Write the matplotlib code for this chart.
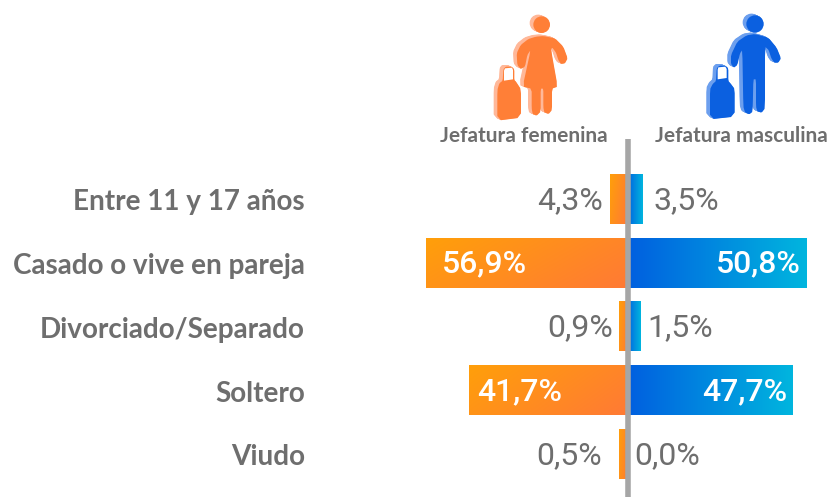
import numpy as np
import matplotlib
matplotlib.use("Agg")
import matplotlib.pyplot as plt
from matplotlib.patches import Polygon, Circle

categories = ["Entre 11 y 17 años", "Casado o vive en pareja", "Divorciado/Separado", "Soltero", "Viudo"]
female_labels = ["4,3%", "56,9%", "0,9%", "41,7%", "0,5%"]
male_labels = ["3,5%", "50,8%", "1,5%", "47,7%", "0,0%"]
# bar lengths as drawn in the picture (not quite proportional to the labels)
female_bars = [4.8, 57.0, 2.3, 45.0, 2.3]
male_bars = [4.5, 50.8, 3.7, 47.0, 0.0]

GREY = "#6E6E6E"
PX = 3.53      # pixels per percent
X0 = 627.4     # pixel position of the centre line
DY = 63.75     # pixels between rows
Y0 = 199.3     # pixel position of first row

fig = plt.figure(figsize=(8.3, 4.97), dpi=100)
ax = fig.add_axes([0, 0, 1, 1])


def hex_rgb(c):
    return np.array(matplotlib.colors.to_rgb(c))


def gradient(c1, c2, diag=0.0):
    # left to right blend, diag tilts it towards the bottom
    u, v = np.meshgrid(np.linspace(0, 1, 100), np.linspace(0, 1, 30))
    t = ((1 - diag) * u + diag * v)[..., None]
    return hex_rgb(c1) * (1 - t) + hex_rgb(c2) * t


orange = gradient("#FF9F0A", "#FF7A35", 0.3)
blue = gradient("#005FE0", "#00B5DE")
h = 0.77 / 2

for i in range(len(categories)):
    ax.imshow(orange, extent=(-female_bars[i], 0, i + h, i - h), aspect="auto", zorder=2)
    if male_bars[i] > 0:
        ax.imshow(blue, extent=(0, male_bars[i], i + h, i - h), aspect="auto", zorder=2)

ax.set_xlim(-X0 / PX, (830 - X0) / PX)
ax.set_ylim((497 - Y0) / DY, -Y0 / DY)
ax.axis("off")

ax.plot([0.1, 0.1], [(139 - Y0) / DY, (497 - Y0) / DY], color="#A6A6A6", lw=4, solid_capstyle="butt", zorder=3)

# category labels
for i, c in enumerate(categories):
    ax.annotate(c, (0, i), xycoords=("axes fraction", "data"), xytext=(305, -3), textcoords="offset pixels",
                ha="right", va="center", fontsize=20.1, fontweight="bold", family="Lato", color=GREY)

# value labels, offset from the bar end in pixels
f_pad = [-8, 16, -6, 9, -17]
m_pad = [10, -6, 7, -6, 7]
for i in range(len(categories)):
    inside = female_bars[i] > 20
    ax.annotate(female_labels[i], (-female_bars[i], i + 0.01), xytext=(f_pad[i], -0.5), textcoords="offset pixels",
                ha="left" if inside else "right", va="center", fontsize=23, family="Roboto",
                fontweight="medium" if inside else "normal", color="white" if inside else GREY, zorder=4)
    inside = male_bars[i] > 20
    ax.annotate(male_labels[i], (male_bars[i], i + 0.01), xytext=(m_pad[i], -0.5), textcoords="offset pixels",
                ha="right" if inside else "left", va="center", fontsize=23, family="Roboto",
                fontweight="medium" if inside else "normal", color="white" if inside else GREY, zorder=4)

# overlay in pixel coordinates for the headers and icons
ov = fig.add_axes([0, 0, 1, 1], facecolor="none")
ov.set_xlim(0, 830)
ov.set_ylim(497, 0)
ov.axis("off")

ov.text(523.5, 136, "Jefatura femenina", ha="center", va="center", fontsize=15, fontweight="bold", family="Lato", color=GREY)
ov.text(741.5, 136, "Jefatura masculina", ha="center", va="center", fontsize=15, fontweight="bold", family="Lato", color=GREY)


def smooth(pts, passes=1):
    pts = np.array(pts, dtype=float)
    for _ in range(passes):
        nxt = np.roll(pts, -1, axis=0)
        pts = np.column_stack([0.85 * pts + 0.15 * nxt, 0.15 * pts + 0.85 * nxt]).reshape(-1, 2)
    return pts


def icon(head, r, body, case, hole, front, light):
    # outlines are sketched at 3x scale, starting at x=430
    def px(pts, dx=0, dy=0):
        return [(430 + (x + dx) / 3, (y + dy) / 3) for x, y in pts]

    body = smooth(body)
    case = smooth(case)
    # extruded lighter copy behind the front face
    for s in np.linspace(1, 0.1, 8):
        dx, dy = -11 * s, -5 * s
        ov.add_patch(Circle(px([head], dx, dy)[0], r / 3, color=light, lw=0))
        ov.add_patch(Polygon(px(body, dx, dy), closed=True, fc=light, ec="none"))
        ov.add_patch(Polygon(px(case, dx, dy), closed=True, fc=light, ec="none"))
    ov.add_patch(Circle(px([head])[0], r / 3, color=front, lw=0))
    ov.add_patch(Polygon(px(body), closed=True, fc=front, ec="none"))
    ov.add_patch(Polygon(px(case), closed=True, fc=front, ec="none"))
    ov.add_patch(Polygon(px(hole), closed=True, fc="white", ec="none"))


f_body = [(340, 108), (375, 115), (400, 140), (413, 175), (405, 190), (393, 192), (385, 180), (378, 158), (367, 143),
          (363, 148), (383, 260), (366, 266), (366, 330), (356, 342), (343, 337), (340, 322), (340, 266), (332, 266),
          (332, 335), (320, 347), (308, 342), (305, 325), (305, 266), (278, 260), (302, 150), (292, 165), (285, 200),
          (272, 207), (262, 195), (260, 160), (272, 135), (295, 117), (318, 110)]
f_case = [(202, 362), (273, 353), (273, 268), (258, 245), (253, 240), (253, 208), (245, 200), (227, 200), (220, 208),
          (218, 242), (208, 250), (202, 270)]
f_hole = [(225, 205), (246, 203), (249, 210), (249, 238), (222, 242), (222, 212)]

m_body = [(975, 102), (1015, 113), (1040, 143), (1053, 175), (1045, 188), (1033, 188), (1024, 175), (1016, 150),
          (1005, 140), (1005, 325), (995, 338), (982, 334), (978, 320), (978, 238), (970, 238), (968, 335), (958, 343),
          (945, 337), (940, 320), (937, 150), (930, 160), (922, 195), (912, 203), (903, 192), (903, 165), (922, 125),
          (950, 106)]
m_case = [(840, 358), (914, 350), (914, 267), (903, 252), (895, 243), (895, 205), (886, 197), (868, 197), (860, 205),
          (858, 243), (848, 252), (840, 268)]
m_hole = [(865, 202), (886, 200), (890, 207), (890, 234), (863, 238), (863, 209)]

icon((335, 74), 25, f_body, f_case, f_hole, "#FF7F37", "#FFB899")
icon((975, 72), 26, m_body, m_case, m_hole, "#0B60E0", "#6C9FEE")

fig.savefig("out.png", dpi=100, facecolor="white")
